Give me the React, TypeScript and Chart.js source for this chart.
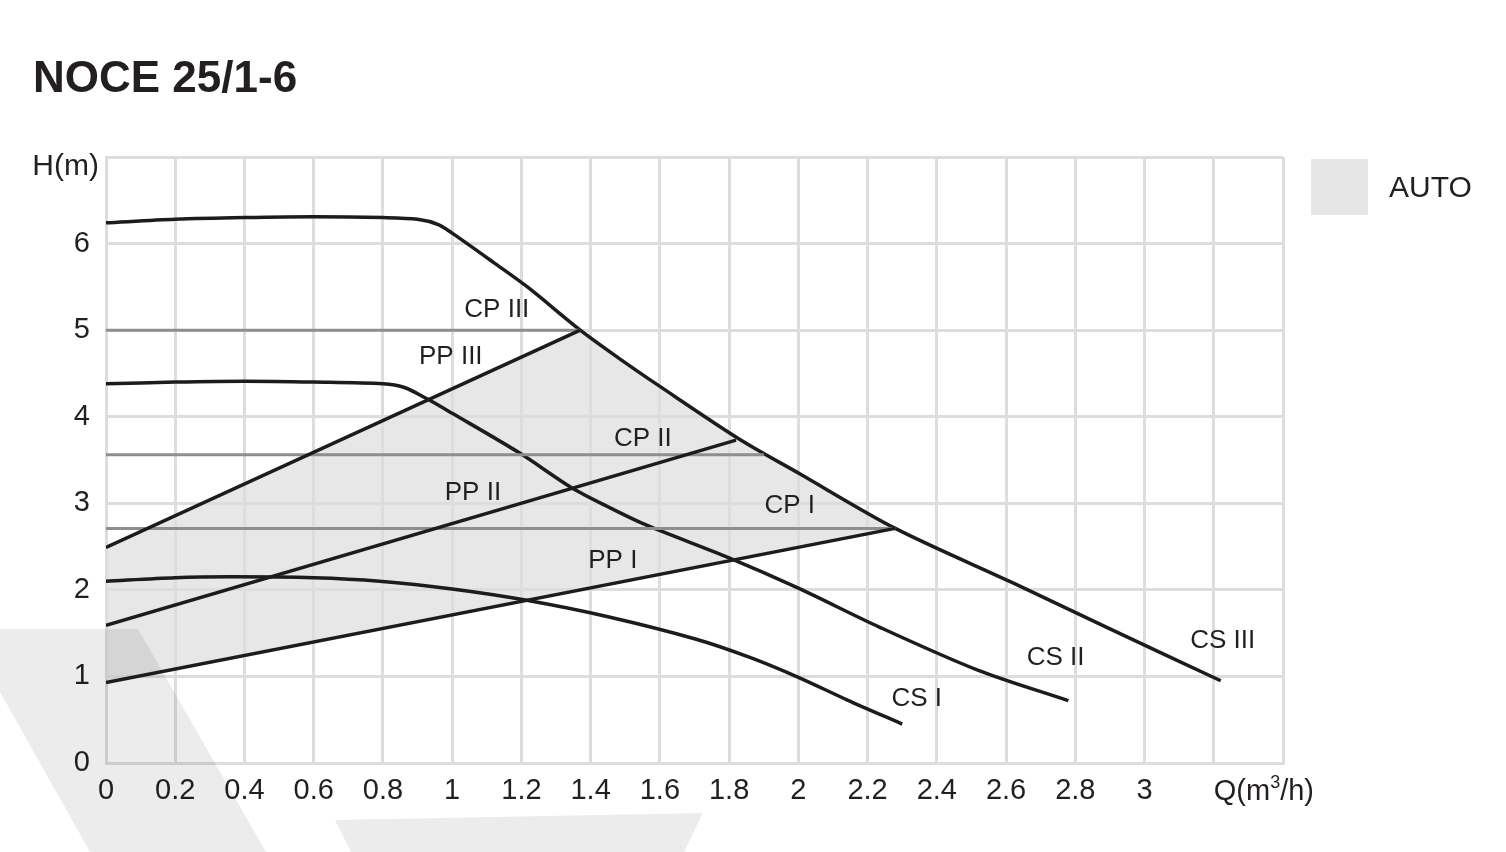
import React, { useEffect, useRef } from "react";
import { Chart, registerables } from "chart.js";

Chart.register(...registerables);

const FONT = '"Liberation Sans", Arial, sans-serif';
const TEXT_COLOR = "#231f20";

const chartTitle = "NOCE 25/1-6";
const yAxisTitle = "H(m)";
const legendLabel = "AUTO";

// tick labels (Q ticks 0 .. 3.4 step 0.2, H ticks 0 .. 7 step 1)
const xTickLabels = ["0", "0.2", "0.4", "0.6", "0.8", "1", "1.2", "1.4", "1.6", "1.8", "2", "2.2", "2.4", "2.6", "2.8", "3", "", ""];
const yTickLabels = ["0", "1", "2", "3", "4", "5", "6", ""];

// CS (constant speed) curves
const csIIIQ = [0, 0.2, 0.4, 0.6, 0.8, 0.9, 0.96, 1.0, 1.12, 1.22, 1.37, 1.48, 1.6, 1.83, 2.0, 2.28, 2.62, 2.9, 3.22];
const csIIIH = [6.24, 6.28, 6.3, 6.31, 6.3, 6.28, 6.22, 6.12, 5.78, 5.49, 5.0, 4.68, 4.35, 3.74, 3.35, 2.71, 2.08, 1.55, 0.95];

const csIIQ = [0, 0.2, 0.4, 0.6, 0.8, 0.86, 0.926, 1.0, 1.195, 1.345, 1.45, 1.56, 1.8, 2.0, 2.234, 2.52, 2.78];
const csIIH = [4.38, 4.4, 4.41, 4.4, 4.38, 4.34, 4.21, 4.04, 3.58, 3.18, 2.96, 2.75, 2.37, 2.02, 1.57, 1.07, 0.72];

const csIQ = [0, 0.2, 0.36, 0.6, 0.79, 1.0, 1.215, 1.45, 1.705, 1.86, 2.0, 2.14, 2.3];
const csIH = [2.1, 2.14, 2.15, 2.14, 2.1, 2.01, 1.88, 1.69, 1.43, 1.22, 0.99, 0.73, 0.45];

// PP (proportional pressure) lines
const ppIQ = [0, 2.28];
const ppIH = [0.93, 2.71];
const ppIIQ = [0, 1.82];
const ppIIH = [1.59, 3.73];
const ppIIIQ = [0, 1.37];
const ppIIIH = [2.49, 5.0];

// CP (constant pressure) lines
const cpIQ = [0, 2.28];
const cpIH = [2.71, 2.71];
const cpIIQ = [0, 1.9];
const cpIIH = [3.56, 3.56];
const cpIIIQ = [0, 1.37];
const cpIIIH = [5.0, 5.0];

// curve labels
const curveLabelText = ["CP III", "PP III", "CP II", "PP II", "CP I", "PP I", "CS I", "CS II", "CS III"];
const curveLabelQ = [1.129, 0.996, 1.551, 1.06, 1.975, 1.464, 2.342, 2.743, 3.226];
const curveLabelH = [5.23, 4.69, 3.74, 3.12, 2.97, 2.34, 0.74, 1.21, 1.41];

const zip = (q: number[], h: number[]) => q.map((x, i) => ({ x, y: h[i] }));

// AUTO area: PP III up to CS III, along CS III down to PP I end
const autoUpper = [
  ...zip(ppIIIQ, ppIIIH),
  ...zip(csIIIQ, csIIIH).filter((p) => p.x > ppIIIQ[1] && p.x < ppIQ[1]),
  { x: ppIQ[1], y: ppIH[1] },
];

const decorPlugin = {
  id: "decor",
  beforeDatasetsDraw(chart: any) {
    const ctx = chart.ctx;
    ctx.save();
    ctx.fillStyle = "rgba(0,0,0,0.075)";
    ctx.beginPath();
    ctx.moveTo(0, 629);
    ctx.lineTo(138, 629);
    ctx.lineTo(266, 852);
    ctx.lineTo(90, 852);
    ctx.lineTo(0, 692);
    ctx.closePath();
    ctx.fill();
    ctx.beginPath();
    ctx.moveTo(335, 820);
    ctx.lineTo(703, 813);
    ctx.lineTo(684, 852);
    ctx.lineTo(351, 852);
    ctx.closePath();
    ctx.fill();
    ctx.restore();
  },
  afterDraw(chart: any) {
    const ctx = chart.ctx;
    const xs = chart.scales.x;
    const ys = chart.scales.y;
    ctx.save();
    ctx.fillStyle = TEXT_COLOR;
    // title
    ctx.font = `bold 44px ${FONT}`;
    ctx.textAlign = "left";
    ctx.textBaseline = "alphabetic";
    ctx.fillText(chartTitle, 33, 92);
    // y axis title
    ctx.font = `30px ${FONT}`;
    ctx.textAlign = "right";
    ctx.fillText(yAxisTitle, 99, 175);
    // x axis title with superscript
    ctx.textAlign = "left";
    let qx = xs.getPixelForValue(3.2);
    const qy = 800;
    ctx.font = `29px ${FONT}`;
    ctx.fillText("Q(m", qx, qy);
    qx += ctx.measureText("Q(m").width;
    ctx.font = `18px ${FONT}`;
    ctx.fillText("3", qx, qy - 12);
    qx += ctx.measureText("3").width;
    ctx.font = `29px ${FONT}`;
    ctx.fillText("/h)", qx, qy);
    // legend
    ctx.fillStyle = "#e6e6e6";
    ctx.fillRect(1311, 159, 57, 56);
    ctx.fillStyle = TEXT_COLOR;
    ctx.font = `30px ${FONT}`;
    ctx.fillText(legendLabel, 1389, 197);
    // curve labels
    ctx.font = `26px ${FONT}`;
    ctx.textAlign = "center";
    ctx.textBaseline = "middle";
    curveLabelText.forEach((t, i) => {
      ctx.fillText(t, xs.getPixelForValue(curveLabelQ[i]), ys.getPixelForValue(curveLabelH[i]));
    });
    ctx.restore();
  },
};

export default function App() {
  const ref = useRef<HTMLCanvasElement | null>(null);

  useEffect(() => {
    if (!ref.current) return;
    const black = "#1c1c1c";
    const gray = "#8e8e8e";
    const line = (label: string, q: number[], h: number[], color: string, width: number, tension: number) => ({
      label,
      data: zip(q, h),
      borderColor: color,
      borderWidth: width,
      pointRadius: 0,
      fill: false,
      tension,
      borderCapStyle: "butt",
    });

    const chart = new Chart(ref.current, {
      type: "line",
      data: {
        datasets: [
          {
            label: legendLabel,
            data: autoUpper,
            borderWidth: 0,
            borderColor: "rgba(0,0,0,0)",
            pointRadius: 0,
            tension: 0,
            backgroundColor: "#e7e7e7",
            fill: 1,
          } as any,
          line("PP I", ppIQ, ppIH, black, 3.5, 0),
          line("PP II", ppIIQ, ppIIH, black, 3.5, 0),
          line("PP III", ppIIIQ, ppIIIH, black, 3.5, 0),
          line("CP I", cpIQ, cpIH, gray, 3, 0),
          line("CP II", cpIIQ, cpIIH, gray, 3, 0),
          line("CP III", cpIIIQ, cpIIIH, gray, 3, 0),
          line("CS I", csIQ, csIH, black, 3.5, 0.3),
          line("CS II", csIIQ, csIIH, black, 3.5, 0.3),
          line("CS III", csIIIQ, csIIIH, black, 3.5, 0.3),
        ] as any,
      },
      options: {
        animation: false,
        responsive: false,
        devicePixelRatio: 1,
        layout: { padding: { top: 157, right: 223, bottom: 0, left: 0 } },
        plugins: {
          legend: { display: false },
          tooltip: { enabled: false },
          filler: { drawTime: "beforeDraw" },
        } as any,
        scales: {
          x: {
            type: "linear",
            min: 0,
            max: 3.4,
            afterFit: (s: any) => {
              s.height = 89;
            },
            grid: { color: "#dddddd", lineWidth: 3, drawTicks: false },
            border: { display: true, color: "#dddddd", width: 3 },
            ticks: {
              stepSize: 0.2,
              autoSkip: false,
              maxRotation: 0,
              padding: 11,
              color: TEXT_COLOR,
              font: { family: FONT, size: 29 },
              callback: (_v: any, i: number) => xTickLabels[i] ?? "",
            },
          },
          y: {
            type: "linear",
            min: 0,
            max: 7,
            afterFit: (s: any) => {
              s.width = 106;
            },
            grid: { color: "#dddddd", lineWidth: 3, drawTicks: false },
            border: { display: true, color: "#dddddd", width: 3 },
            ticks: {
              stepSize: 1,
              padding: 16,
              color: TEXT_COLOR,
              font: { family: FONT, size: 29 },
              callback: (_v: any, i: number) => yTickLabels[i] ?? "",
            },
          },
        } as any,
      },
      plugins: [decorPlugin],
    });
    return () => chart.destroy();
  }, []);

  return (
    <div style={{ position: "fixed", left: 0, top: 0, width: 1506, height: 852, background: "#ffffff" }}>
      <canvas ref={ref} width={1506} height={852} style={{ width: 1506, height: 852, display: "block" }} />
    </div>
  );
}
